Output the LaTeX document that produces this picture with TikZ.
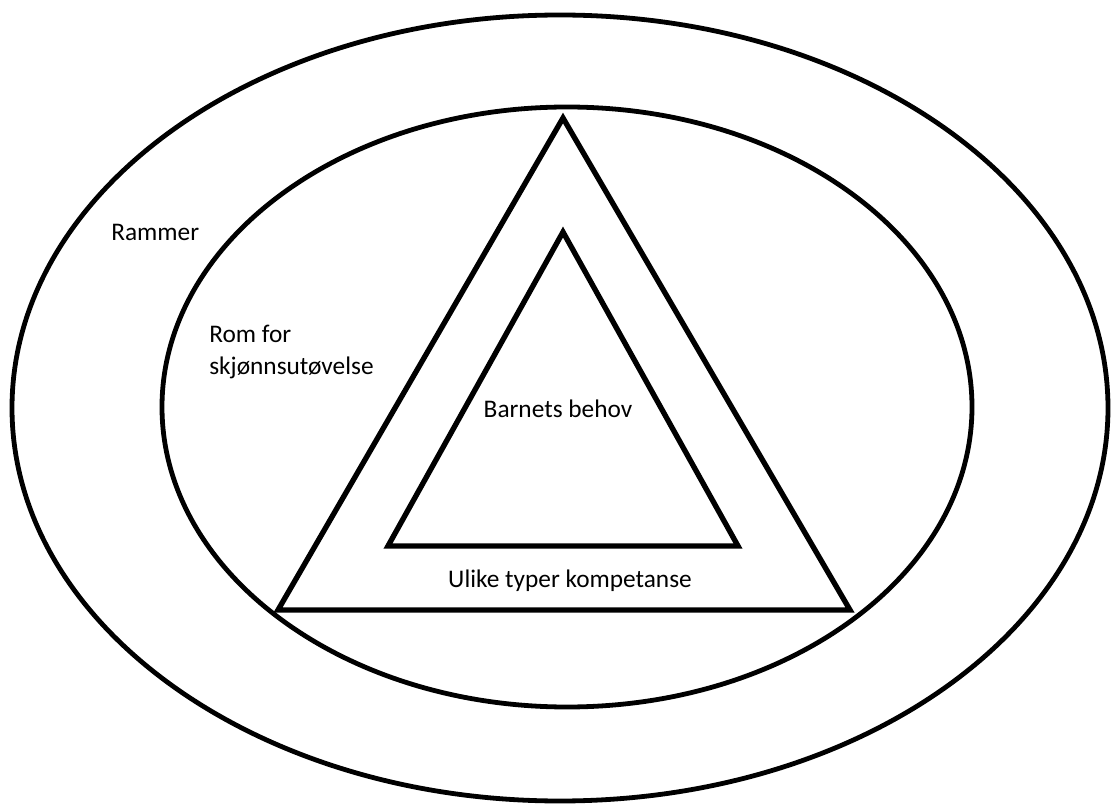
\documentclass[tikz,border=0pt]{standalone}
\usepackage{fontspec}
\setmainfont{Carlito}
\usetikzlibrary{positioning}

\begin{document}
\begin{tikzpicture}[
    x=0.75pt, y=-0.75pt,
    ring/.style={draw, line width=3.6pt},
    tri/.style={draw, line width=4pt, line join=miter},
    txt/.style={font=\fontsize{19}{23.5}\selectfont, inner sep=0pt, align=left}
]
\useasboundingbox (0,0) rectangle (1111,805);
% rings
\draw[ring] (560,408) ellipse [x radius=411pt, y radius=294.75pt];
\draw[ring] (567,407) ellipse [x radius=303.75pt, y radius=225pt];
% triangles
\coordinate (ta) at (563,118);
\coordinate (tl) at (278,610);
\coordinate (tr) at (850,610);
\coordinate (ia) at (563,232);
\coordinate (il) at (388,546);
\coordinate (ir) at (738,546);
\draw[tri] (ta) -- (tl) -- (tr) -- cycle;
\draw[tri] (ia) -- (il) -- (ir) -- cycle;
% labels
\node[txt, anchor=west] (rammer) at (111,232) {Rammer};
\node[txt, anchor=west] (rom) at (209,352) {Rom for\\skjønnsutøvelse};
\node[txt] (behov) at (558,409) {Barnets behov};
\node[txt] (komp) at (570,581) {Ulike typer kompetanse};
\end{tikzpicture}
\end{document}
